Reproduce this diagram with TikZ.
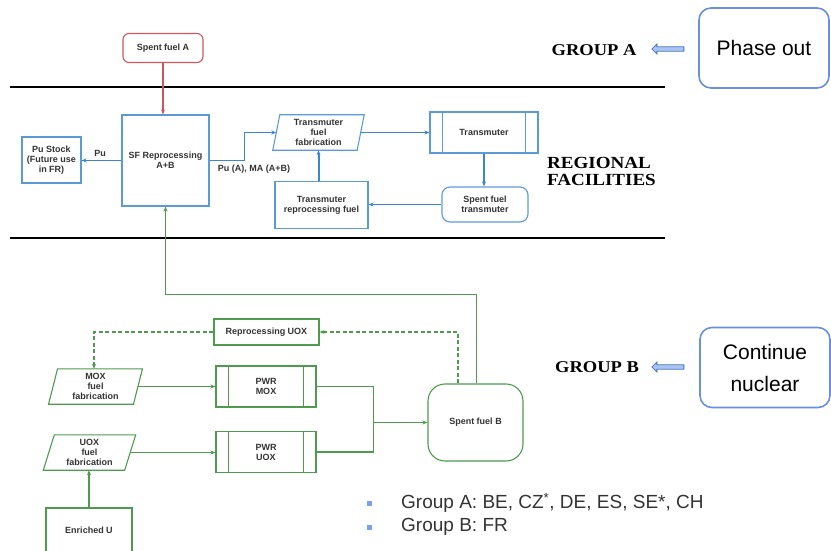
\documentclass[tikz,border=0pt]{standalone}
\usepackage{fontspec}
\setmainfont{Liberation Sans}
\newfontfamily\grpf{Liberation Serif}[FakeStretch=1.12]
\usetikzlibrary{shapes.arrows,arrows.meta}
\definecolor{bl}{HTML}{5B9BD5}
\definecolor{blA}{HTML}{3C86D0}
\definecolor{rd}{HTML}{C9585A}
\definecolor{gr}{HTML}{4E9A4E}
\definecolor{txtc}{HTML}{333333}
\definecolor{pbox}{HTML}{6A8FE0}
\definecolor{arf}{HTML}{A9C4F0}
\definecolor{arb}{HTML}{4A72C8}
\definecolor{bulc}{HTML}{7F9FE8}
\newcommand\drawslant[3]{\draw[#3] ([xshift=#2]#1.north west) -- ([xshift=#2]#1.north east) -- ([xshift=-#2]#1.south east) -- ([xshift=-#2]#1.south west) -- cycle;}
\newcommand\drawprocess[3]{\draw[#3] ([xshift=#2]#1.north west) -- ([xshift=#2]#1.south west); \draw[#3] ([xshift=-#2]#1.north east) -- ([xshift=-#2]#1.south east);}
\tikzset{
  boxtxt/.style={font=\fontsize{9}{10}\selectfont\bfseries, text=txtc, align=center, inner sep=0pt},
  bbox/.style={boxtxt, draw=bl, line width=1.1pt},
  gbox/.style={boxtxt, draw=gr, line width=1.1pt},
  rbox/.style={boxtxt, draw=rd, line width=1.1pt, rounded corners=6pt},
  pbox/.style={boxtxt},
  barrow/.style={draw=blA, line width=1.1pt, -{Stealth[length=5pt,width=4pt]}},
  rarrow/.style={draw=rd, line width=1.1pt, -{Stealth[length=5pt,width=4pt]}},
  garrow/.style={draw=gr, line width=1.1pt, -{Stealth[length=5pt,width=4pt]}},
  gline/.style={draw=gr, line width=1.1pt},
  gdash/.style={draw=gr, line width=1.1pt, dash pattern=on 4pt off 2.5pt, -{Stealth[length=5pt,width=4pt]}},
  sepline/.style={draw=black, line width=1.3pt},
  grouptxt/.style={font=\grpf\bfseries\fontsize{16.5}{17}\selectfont, text=black, inner sep=0pt},
  bigbox/.style={draw=pbox, line width=1.6pt, rounded corners=12pt, font=\fontsize{21}{32}\selectfont, align=center, text=black, inner sep=0pt},
  blockarrow/.style={single arrow, shape border rotate=180, draw=arb, fill=arf, line width=0.8pt, minimum height=32pt, minimum width=10pt, inner sep=1.6pt, single arrow head extend=2.5pt},
  bullet/.style={fill=bulc, minimum size=5pt, inner sep=0pt},
  bultxt/.style={font=\fontsize{19}{22}\selectfont, text=txtc, inner sep=0pt, anchor=west}
}
\begin{document}
\begin{tikzpicture}[x=1pt,y=-1pt]
\useasboundingbox (0,0) rectangle (831,551);
% separator lines
\coordinate (l1a) at (10,87); \coordinate (l1b) at (665,87);
\coordinate (l2a) at (10,238); \coordinate (l2b) at (665,238);
\draw[sepline] (l1a) -- (l1b);
\draw[sepline] (l2a) -- (l2b);
% top nodes
\node[rbox, minimum width=80pt, minimum height=29pt] (sfa) at (163,48) {Spent fuel A};
\node[bbox, minimum width=87pt, minimum height=91pt] (sfr) at (165.5,160.5) {SF Reprocessing\\A+B};
\node[bbox, minimum width=59pt, minimum height=46pt] (pus) at (51.5,160) {Pu Stock\\(Future use\\in FR)};
\node[pbox, minimum width=84pt, minimum height=35pt] (tff) at (318.5,132.5) {Transmuter\\fuel\\fabrication};
\drawslant{tff}{3.5pt}{draw=bl, line width=1.1pt}
\node[bbox, minimum width=108pt, minimum height=41pt] (tr) at (484,132.5) {Transmuter};
\drawprocess{tr}{13pt}{draw=bl, line width=1.1pt}
\node[bbox, rounded corners=8pt, minimum width=86pt, minimum height=35pt] (sft) at (485,204.5) {Spent fuel\\transmuter};
\node[bbox, minimum width=93pt, minimum height=47pt] (trp) at (321.5,205) {Transmuter\\reprocessing fuel};
\node[boxtxt] (lpu) at (100,153) {Pu};
\node[boxtxt] (lpuma) at (254,169) {Pu (A), MA (A+B)};
% top connectors
\draw[rarrow] (sfa.south) -- (sfa.south |- sfr.north);
\draw[barrow] (sfr.west) -- (sfr.west -| pus.east);
\draw[barrow] (sfr.east) -- ++(34.5,0) |- (tff.west);
\draw[barrow] (tff.east) -- (tff.east -| tr.west);
\draw[barrow] (tr.south) -- (tr.south |- sft.north);
\draw[barrow] (sft.west) -- (sft.west -| trp.east);
\draw[barrow, line width=2pt] (trp.north -| tff.south) -- (tff.south);
% group labels
\node[grouptxt] (ga) at (594,50) {GROUP A};
\node[blockarrow] (arA) at (669,49) {};
\node[bigbox, minimum width=130pt, minimum height=80pt] (po) at (764,48) {Phase out};
\node[grouptxt, anchor=west, align=left, font=\grpf\bfseries\fontsize{17}{17}\selectfont] (rf) at (547,171) {REGIONAL\\FACILITIES};
\node[grouptxt] (gb) at (597,367) {GROUP B};
\node[blockarrow] (arB) at (669,367) {};
\node[bigbox, minimum width=130pt, minimum height=80pt] (cn) at (765,367.5) {Continue\\nuclear};
% bottom nodes
\node[gbox, minimum width=105pt, minimum height=26pt] (ruox) at (266.5,332) {Reprocessing UOX};
\node[pbox, minimum width=84.5pt, minimum height=35pt] (mox) at (95.5,386.5) {MOX\\fuel\\fabrication};
\drawslant{mox}{4.5pt}{draw=gr, line width=1.1pt}
\node[pbox, minimum width=81pt, minimum height=35pt] (uox) at (89.5,452.5) {UOX\\fuel\\fabrication};
\drawslant{uox}{5.5pt}{draw=gr, line width=1.1pt}
\node[gbox, minimum width=100pt, minimum height=41pt] (pwrmox) at (266,386.5) {PWR\\MOX};
\drawprocess{pwrmox}{13pt}{draw=gr, line width=1.1pt}
\node[gbox, minimum width=100pt, minimum height=41pt] (pwruox) at (266,452) {PWR\\UOX};
\drawprocess{pwruox}{13pt}{draw=gr, line width=1.1pt}
\node[gbox, minimum width=86pt, minimum height=44pt] (enr) at (89,530) {Enriched U};
\node[gbox, rounded corners=17pt, minimum width=95pt, minimum height=77pt] (sfb) at (475.5,422.5) {Spent fuel B};
% bottom connectors
\draw[garrow] ([xshift=1pt]sfb.north) -- ++(0,-89) -| (sfr.south);
\draw[gdash] ([xshift=-17.5pt]sfb.north) |- (ruox.east);
\draw[gdash] (ruox.west) -| ([xshift=-1.5pt]mox.north);
\draw[garrow] (mox.east) -- (mox.east -| pwrmox.west);
\draw[garrow] (uox.east) -- (uox.east -| pwruox.west);
\draw[garrow] (enr.north) -- (enr.north |- uox.south);
\draw[gline] (pwrmox.east) -- ++(57,0) |- (pwruox.east);
\coordinate (jn) at (373,422.5);
\draw[garrow] (jn) -- (sfb.west);
% bullets
\node[bullet] (b1) at (369,503) {};
\node[bultxt] (t1) at (401,503) {Group A: BE, CZ\textsuperscript{*}, DE, ES, SE*, CH};
\node[bullet] (b2) at (369,527) {};
\node[bultxt] (t2) at (401,527) {Group B: FR};
\end{tikzpicture}
\end{document}
